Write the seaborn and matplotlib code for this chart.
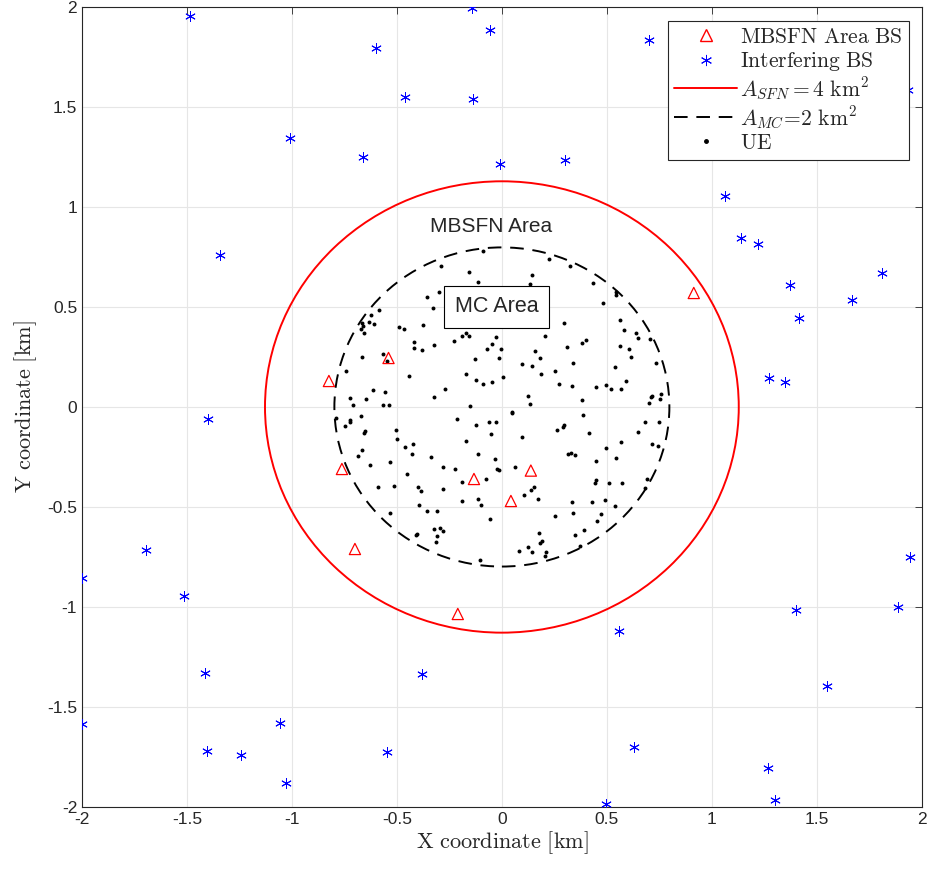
import numpy as np
import pandas as pd
import matplotlib
matplotlib.use('Agg')
import matplotlib.pyplot as plt
import seaborn as sns
from matplotlib.patches import Circle
from matplotlib.lines import Line2D

# areas (km^2)
area_sfn = 4
area_mc = 2

# MBSFN area base stations
bs_x = [-0.824, -0.54, 0.914, -0.762, -0.133, 0.138, 0.043, -0.70, -0.21]
bs_y = [0.13, 0.245, 0.57, -0.31, -0.36, -0.318, -0.47, -0.71, -1.035]

# interfering base stations
int_x = [-1.486, -0.143, -0.057, -0.6, 0.7, -0.462, -0.138, 1.933, -1.01, -0.662,
         -0.01, 0.3, 1.062, 1.138, 1.219, -1.343, 1.81, 1.371, 1.667, 1.414,
         1.271, 1.348, -1.4, -1.695, -2.0, -1.514, 1.943, 1.886, 1.4, 0.557,
         -0.381, -1.414, 1.548, -2.0, -1.057, -1.405, -1.243, -0.548, 0.629, -1.029,
         1.267, 0.495, 1.3]
int_y = [1.955, 1.995, 1.885, 1.795, 1.835, 1.55, 1.54, 1.585, 1.345, 1.25,
         1.215, 1.235, 1.055, 0.845, 0.815, 0.76, 0.67, 0.61, 0.535, 0.445,
         0.145, 0.125, -0.06, -0.715, -0.855, -0.945, -0.75, -1.0, -1.015, -1.12,
         -1.335, -1.33, -1.395, -1.585, -1.58, -1.72, -1.74, -1.725, -1.7, -1.88,
         -1.805, -1.985, -1.965]

# user equipment
ue_x = [-0.089, -0.292, -0.157, -0.116, -0.356, -0.299, -0.327, -0.586, -0.622, -0.632,
        -0.611, -0.668, -0.660, -0.670, -0.656, -0.490, -0.465, -0.376, -0.419, -0.418,
        -0.381, -0.321, -0.227, -0.192, -0.173, -0.157, -0.029, -0.048, -0.073, -0.016,
        -0.127, -0.667, -0.565, -0.549, -0.741, -0.441, -0.17, -0.122, -0.092, -0.046,
        -0.271, -0.322, -0.616, -0.557, -0.725, -0.646, -0.708, -0.565, -0.540, -0.154,
        0.224, 0.325, 0.143, 0.135, 0.433, 0.543, 0.544, 0.481, 0.297, 0.205,
        0.563, 0.582, 0.638, 0.648, 0.706, 0.403, 0.381, 0.311, 0.565, 0.606,
        0.613, 0.156, 0.183, -0.006, 0.098, 0.143, 0.338, 0.537, 0.733, 0.251,
        0.184, 0.005, 0.273, 0.333, 0.449, 0.495, 0.518, 0.568, 0.59, 0.124,
        0.132, 0.384, 0.714, 0.71, 0.757, 0.752, 0.703,
        -0.792, -0.671, -0.725, -0.722, -0.746, -0.505, -0.5, -0.652, -0.657, -0.213,
        -0.122, -0.06, -0.027, -0.051, -0.171, -0.462, -0.422, -0.43, -0.665, -0.686,
        -0.116, -0.035, -0.34, -0.533, -0.627, -0.279, -0.222, -0.024, -0.016, -0.451,
        -0.189, -0.078, -0.589, -0.514, -0.398, -0.384, -0.282, -0.192, -0.114, -0.1,
        -0.395, -0.356, -0.311, -0.532, -0.056, -0.325, -0.295, -0.279, -0.403, -0.411,
        -0.308, -0.316, -0.103,
        0.046, 0.046, 0.386, 0.295, 0.29, 0.262, 0.414, 0.098, 0.684, 0.749,
        0.649, 0.568, 0.713, 0.746, 0.494, 0.316, 0.329, 0.349, 0.544, 0.446,
        0.063, 0.449, 0.444, 0.51, 0.57, 0.69, 0.681, 0.154, 0.138, 0.103,
        0.171, 0.335, 0.427, 0.49, 0.54, 0.341, 0.254, 0.471, 0.451, 0.39,
        0.349, 0.176, 0.189, 0.183, 0.371, 0.124, 0.081, 0.143, 0.208, 0.205]
ue_y = [0.782, 0.707, 0.677, 0.625, 0.552, 0.573, 0.493, 0.487, 0.458, 0.423,
        0.413, 0.418, 0.405, 0.39, 0.368, 0.402, 0.392, 0.41, 0.325, 0.295,
        0.283, 0.312, 0.332, 0.355, 0.37, 0.355, 0.352, 0.315, 0.288, 0.243,
        0.242, 0.252, 0.265, 0.232, 0.18, 0.155, 0.163, 0.137, 0.113, 0.123,
        0.09, 0.05, 0.083, 0.077, 0.043, 0.04, 0.01, 0.008, 0.01, 0.003,
        0.74, 0.707, 0.662, 0.613, 0.62, 0.573, 0.558, 0.518, 0.422, 0.355,
        0.433, 0.385, 0.368, 0.343, 0.338, 0.337, 0.318, 0.302, 0.305, 0.29,
        0.252, 0.28, 0.243, 0.292, 0.213, 0.205, 0.218, 0.198, 0.218, 0.182,
        0.163, 0.152, 0.113, 0.107, 0.1, 0.11, 0.09, 0.09, 0.128, 0.057,
        0.017, 0.033, 0.057, 0.048, 0.065, 0.038, 0.02,
        -0.053, -0.043, -0.065, -0.077, -0.093, -0.115, -0.162, -0.118, -0.132, -0.06,
        -0.09, -0.073, -0.077, -0.133, -0.172, -0.198, -0.187, -0.233, -0.213, -0.243,
        -0.237, -0.258, -0.252, -0.275, -0.29, -0.298, -0.31, -0.31, -0.313, -0.335,
        -0.373, -0.36, -0.398, -0.397, -0.4, -0.42, -0.41, -0.47, -0.462, -0.492,
        -0.49, -0.518, -0.52, -0.532, -0.558, -0.608, -0.605, -0.618, -0.635, -0.642,
        -0.647, -0.675, -0.765,
        -0.023, -0.032, -0.038, -0.092, -0.098, -0.115, -0.13, -0.152, -0.073, -0.073,
        -0.125, -0.175, -0.183, -0.195, -0.203, -0.235, -0.232, -0.242, -0.253, -0.272,
        -0.3, -0.365, -0.378, -0.38, -0.38, -0.358, -0.407, -0.402, -0.417, -0.442,
        -0.462, -0.475, -0.473, -0.465, -0.497, -0.53, -0.547, -0.537, -0.568, -0.613,
        -0.642, -0.63, -0.67, -0.68, -0.695, -0.698, -0.722, -0.725, -0.727, -0.745]

tick_vals = [-2, -1.5, -1, -0.5, 0, 0.5, 1, 1.5, 2]
tick_labels = ['-2', '-1.5', '-1', '-0.5', '0', '0.5', '1', '1.5', '2']

df_bs = pd.DataFrame({'x': bs_x, 'y': bs_y})
df_int = pd.DataFrame({'x': int_x, 'y': int_y})
df_ue = pd.DataFrame({'x': ue_x, 'y': ue_y})

sns.set_style('white')
plt.rcParams['mathtext.fontset'] = 'cm'
plt.rcParams['font.family'] = ['Liberation Sans', 'DejaVu Sans']

fig = plt.figure(figsize=(9.32, 8.71), dpi=100)
ax = fig.add_axes([0.088, 0.0735, 0.901, 0.9185])

# UE
sns.scatterplot(data=df_ue, x='x', y='y', ax=ax, color='black', marker='o',
                s=8, linewidth=0, zorder=3)
# circles
r_sfn = np.sqrt(area_sfn / np.pi)
r_mc = np.sqrt(area_mc / np.pi)
ax.add_patch(Circle((0, 0), r_sfn, fill=False, edgecolor='red', lw=1.4, zorder=2))
ax.add_patch(Circle((0, 0), r_mc, fill=False, edgecolor='black', lw=1.4,
                    linestyle=(0, (7, 4.5)), zorder=2))
# base stations
sns.scatterplot(data=df_bs, x='x', y='y', ax=ax, marker='^', s=65,
                facecolor='none', edgecolor='red', linewidth=0.9, zorder=4)
sns.scatterplot(data=df_int, x='x', y='y', ax=ax, marker=(6, 2, 0), s=50,
                color='blue', edgecolor='blue', linewidth=0.7, zorder=4)

ax.text(-0.05, 0.9, 'MBSFN Area', fontsize=15, ha='center', va='center')
ax.text(-0.024, 0.5, 'MC Area', fontsize=15.5, ha='center', va='center', zorder=5,
        bbox=dict(boxstyle='square,pad=0.5', facecolor='white', edgecolor='black', lw=0.8))

ax.set_xlim(-2, 2)
ax.set_ylim(-2, 2)
ax.set_xticks(tick_vals)
ax.set_xticklabels(tick_labels, fontsize=12.5)
ax.set_yticks(tick_vals)
ax.set_yticklabels(tick_labels, fontsize=12.5)
ax.grid(True, color='#e6e6e6', lw=0.8)
ax.set_axisbelow(True)
ax.tick_params(direction='in', top=True, right=True, length=5, width=0.6, color='#262626')
for sp in ax.spines.values():
    sp.set_color('#262626')
    sp.set_linewidth(0.8)
    sp.set_visible(True)

ax.set_xlabel(r'$\mathrm{X\ coordinate\ [km]}$', fontsize=16, labelpad=2)
ax.set_ylabel(r'$\mathrm{Y\ coordinate\ [km]}$', fontsize=16, labelpad=6)

handles = [
    Line2D([], [], marker='^', linestyle='none', markerfacecolor='none',
           markeredgecolor='red', markersize=8),
    Line2D([], [], marker=(6, 2, 0), linestyle='none', color='blue', markersize=8,
           markeredgewidth=0.7),
    Line2D([], [], color='red', lw=1.4),
    Line2D([], [], color='black', lw=1.4, linestyle=(0, (7, 4.5))),
    Line2D([], [], marker='o', linestyle='none', color='black', markersize=2.5),
]
labels = [r'$\mathrm{MBSFN\ Area\ BS}$', r'$\mathrm{Interfering\ BS}$',
          r'$A_{SFN}=4\ \mathrm{km}^2$', r'$A_{MC}\!=\!2\ \mathrm{km}^2$', r'$\mathrm{UE}$']
leg = ax.legend(handles, labels, loc='upper right', bbox_to_anchor=(0.985, 0.983),
                fontsize=15.5, frameon=True, fancybox=False, handlelength=2.9,
                borderpad=0.3, labelspacing=0.1, handletextpad=0.15, borderaxespad=0)
leg.get_frame().set_edgecolor('#262626')
leg.get_frame().set_linewidth(0.8)
leg.get_frame().set_alpha(1)

fig.savefig('out.png', dpi=100)
